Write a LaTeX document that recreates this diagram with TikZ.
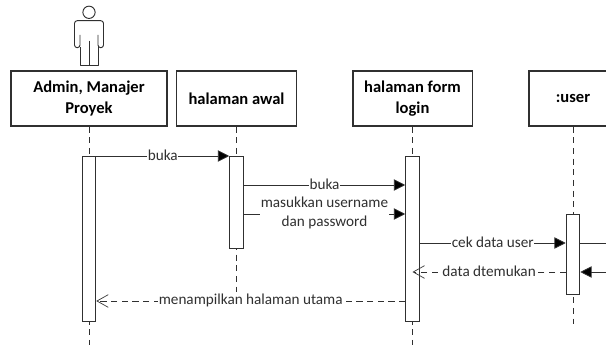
\documentclass[tikz,border=0pt]{standalone}
\usepackage{fontspec}
\setmainfont{Carlito}
\usetikzlibrary{arrows.meta}
\definecolor{ink}{HTML}{303030}
\tikzset{
  x=0.75pt,y=-0.75pt,
  headbox/.style={draw=ink,line width=1pt,fill=white,align=center,inner sep=0pt,font=\fontsize{12.4}{15.5}\selectfont\bfseries,text=black},
  activation/.style={draw=ink,line width=0.7pt,fill=white,inner sep=0pt,minimum width=10.2pt},
  lifeline/.style={draw=ink,line width=0.6pt,dash pattern=on 4.6pt off 3.4pt},
  sync/.style={draw=ink,line width=0.6pt,-{Triangle[length=8.5pt,width=8.5pt,fill=black]}},
  ret/.style={draw=ink,line width=0.6pt,dash pattern=on 4.6pt off 3.4pt,-{Straight Barb[length=8.5pt,width=9.5pt,line width=0.5pt]}},
  msg/.style={fill=white,inner xsep=0.4pt,inner ysep=0.5pt,align=center,yshift=0.5pt,font=\fontsize{11.4}{14.2}\selectfont,text=ink},
  actorline/.style={draw=ink,line width=0.7pt,line join=round}
}
\begin{document}
\begin{tikzpicture}
\clip (0,0) rectangle (606,345);
\fill[white] (0,0) rectangle (606,345);
% actor
\draw[actorline] (89,12.3) circle (4.6pt);
\draw[actorline,rounded corners=2pt] (80,35) -- (80,47.7) -- (74.5,47.7) -- (74.5,20.7) -- (103.5,20.7) -- (103.5,47.7) -- (98,47.7) -- (98,35);
\draw[actorline] (80,47) -- (80,65) -- (98,65) -- (98,47) (89,40.7) -- (89,65);
% heads
\node[headbox,minimum width=117pt,minimum height=41.2pt] (admin) at (89,98.5) {Admin, Manajer\\Proyek};
\node[headbox,minimum width=90pt,minimum height=41.2pt] (awal) at (236.5,98.5) {halaman awal};
\node[headbox,minimum width=89.5pt,minimum height=41.2pt] (form) at (412.5,98.5) {halaman form\\login};
\node[headbox,minimum width=66pt,minimum height=41.2pt] (user) at (573,98.5) {:user};
% lifeline ends
\coordinate (adminEnd) at (89,345);
\coordinate (awalEnd) at (236.5,292);
\coordinate (formEnd) at (412.5,345);
\coordinate (userEnd) at (573,324);
\draw[lifeline] (admin.south) -- (adminEnd);
\draw[lifeline] (awal.south) -- (awalEnd);
\draw[lifeline] (form.south) -- (formEnd);
\draw[lifeline] (user.south) -- (userEnd);
% activations
\node[activation,minimum height=123.75pt,anchor=north] (actA) at (89,156) {};
\node[activation,minimum height=69pt,anchor=north] (actB) at (236.5,156) {};
\node[activation,minimum height=123.75pt,anchor=north] (actC) at (412.5,156) {};
\node[activation,minimum height=60pt,anchor=north] (actD) at (573,214) {};
% message anchors
\coordinate (a1) at (actA.east |- 0,156);
\coordinate (b1) at (actB.west |- 0,156);
\coordinate (b2) at (actB.east |- 0,185);
\coordinate (c2) at (actC.west |- 0,185);
\coordinate (b3) at (actB.east |- 0,214);
\coordinate (c3) at (actC.west |- 0,214);
\coordinate (c4) at (actC.east |- 0,243);
\coordinate (d4) at (actD.west |- 0,243);
\coordinate (d5) at (actD.west |- 0,272);
\coordinate (c5) at (actC.center |- 0,272);
\coordinate (c6) at (actC.west |- 0,301);
\coordinate (a6) at (actA.east |- 0,301);
\coordinate (d7) at (actD.east |- 0,243);
\coordinate (e7) at (606,243);
\coordinate (e8) at (606,272);
\coordinate (d8) at (actD.east |- 0,272);
% messages
\draw[sync] (a1) -- (b1) node[msg,pos=0.5] {buka};
\draw[sync] (b2) -- (c2) node[msg,pos=0.5] {buka};
\draw[sync] (b3) -- (c3) node[msg,pos=0.5] {masukkan username\\dan password};
\draw[sync] (c4) -- (d4) node[msg,pos=0.5] {cek data user};
\draw[ret] (d5) -- (c5) node[msg,pos=0.5] {data dtemukan};
\draw[ret] (c6) -- (a6) node[msg,pos=0.5] {menampilkan halaman utama};
\draw[draw=ink,line width=0.6pt] (d7) -- (e7);
\draw[sync] (e8) -- (d8);
\end{tikzpicture}
\end{document}
